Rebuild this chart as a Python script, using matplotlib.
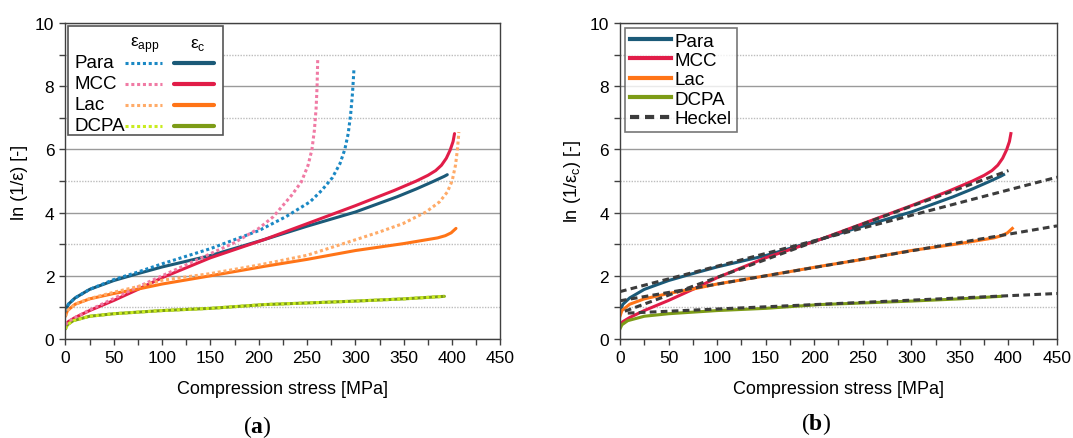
import matplotlib
matplotlib.use("Agg")
import matplotlib.pyplot as plt
from matplotlib.lines import Line2D
from matplotlib.patches import Rectangle

plt.rcParams["font.family"] = ["Liberation Sans", "DejaVu Sans"]
plt.rcParams["mathtext.fontset"] = "custom"
plt.rcParams["mathtext.rm"] = "Liberation Serif"
plt.rcParams["mathtext.bf"] = "Liberation Serif:bold"

# ---------------------------------------------------------------
# data (stress in MPa, ln(1/eps) in -)
# ---------------------------------------------------------------
materials = ["Para", "MCC", "Lac", "DCPA"]

# eps_c
para_x = [0, 3, 10, 25, 50, 75, 100, 150, 206, 250, 300, 343, 363, 380, 392, 395]
para_y = [0.88, 1.1, 1.3, 1.57, 1.85, 2.07, 2.28, 2.64, 3.15, 3.57, 4.02, 4.5, 4.75, 4.98, 5.15, 5.2]
mcc_x = [0, 3, 10, 25, 50, 75, 100, 150, 206, 250, 300, 340, 363, 375, 383, 389, 394, 398, 401, 402.5]
mcc_y = [0.45, 0.55, 0.68, 0.9, 1.22, 1.57, 1.94, 2.57, 3.15, 3.65, 4.22, 4.7, 5.0, 5.18, 5.33, 5.5, 5.72, 5.98, 6.25, 6.5]
lac_x = [0, 2, 10, 25, 50, 75, 100, 150, 206, 250, 300, 350, 385, 393, 399, 404]
lac_y = [0.72, 0.9, 1.1, 1.27, 1.44, 1.58, 1.74, 2.0, 2.3, 2.52, 2.8, 3.02, 3.2, 3.27, 3.36, 3.5]
dcpa_x = [0, 2, 8, 25, 50, 100, 150, 206, 250, 300, 350, 392]
dcpa_y = [0.32, 0.45, 0.58, 0.72, 0.8, 0.9, 0.97, 1.09, 1.14, 1.2, 1.27, 1.35]

# eps_app
para_app_x = [0, 3, 10, 25, 50, 75, 100, 150, 200, 228, 253, 265, 276, 284, 289, 292.5, 295, 297, 298.5]
para_app_y = [0.88, 1.1, 1.3, 1.57, 1.88, 2.12, 2.38, 2.86, 3.43, 3.87, 4.34, 4.7, 5.1, 5.55, 6.0, 6.5, 7.1, 7.8, 8.56]
mcc_app_x = [0, 3, 10, 25, 50, 75, 100, 150, 175, 200, 215, 234, 244, 251, 255, 257.5, 259.3, 260.3, 261]
mcc_app_y = [0.45, 0.55, 0.68, 0.92, 1.28, 1.65, 2.0, 2.7, 3.05, 3.5, 3.87, 4.55, 4.97, 5.5, 6.0, 6.6, 7.3, 8.0, 8.88]
lac_app_x = [0, 2, 10, 25, 50, 75, 100, 150, 200, 250, 304, 325, 349, 373, 387, 395, 400, 403.5, 405.5, 407]
lac_app_y = [0.72, 0.9, 1.1, 1.28, 1.48, 1.66, 1.86, 2.07, 2.34, 2.65, 3.18, 3.39, 3.65, 4.02, 4.34, 4.65, 5.0, 5.5, 6.0, 6.55]
dcpa_app_x = [0, 2, 8, 25, 50, 100, 150, 206, 250, 300, 350, 392]
dcpa_app_y = [0.32, 0.45, 0.58, 0.72, 0.8, 0.9, 0.97, 1.09, 1.14, 1.2, 1.27, 1.35]

# Heckel fits (end points)
heckel_x = [[0, 450], [5, 400], [0, 450], [8, 450]]
heckel_y = [[1.5, 5.12], [0.88, 5.33], [1.21, 3.58], [0.82, 1.44]]

col_c = ["#1b5a78", "#e11d48", "#ff7417", "#7d9c17"]
col_app = ["#1a88c4", "#f07aa4", "#ffab68", "#c9ec20"]
HECKEL_COL = "#3c3c3c"

c_x = [para_x, mcc_x, lac_x, dcpa_x]
c_y = [para_y, mcc_y, lac_y, dcpa_y]
app_x = [para_app_x, mcc_app_x, lac_app_x, dcpa_app_x]
app_y = [para_app_y, mcc_app_y, lac_app_y, dcpa_app_y]

DOT = (0, (1, 0.9))
DASH = (0, (2.2, 1.4))


def style_axes(ax, ylabel):
    ax.set_xlim(0, 450)
    ax.set_ylim(0, 10)
    ax.set_xticks(range(0, 451, 50))
    ax.set_xticks(range(25, 451, 50), minor=True)
    ax.set_yticks(range(0, 11, 2))
    ax.set_yticks(range(1, 10, 2), minor=True)
    ax.tick_params(which="both", direction="out", length=4, width=1,
                   color="#404040", labelsize=12.5, pad=4)
    ax.grid(True, which="major", axis="y", color="#9a9a9a", lw=1)
    ax.grid(True, which="minor", axis="y", color="#bdbdbd", lw=1, ls=(0, (1, 1)))
    ax.set_axisbelow(True)
    for s in ax.spines.values():
        s.set_color("#404040")
        s.set_linewidth(1)
    ax.set_xlabel("Compression stress [MPa]", fontsize=13, labelpad=11)
    ax.set_ylabel(ylabel, fontsize=13, labelpad=5)


fig = plt.figure(figsize=(10.73, 4.39), dpi=100)
ax1 = fig.add_axes([0.061, 0.2255, 0.4054, 0.7198])
ax2 = fig.add_axes([0.5778, 0.2255, 0.4073, 0.7198])

# =================================================================
# (a) eps_app vs eps_c
# =================================================================
for i in range(4):
    ax1.plot(c_x[i], c_y[i], color=col_c[i], lw=2.2, solid_capstyle="round")
for i in range(4):
    ax1.plot(app_x[i], app_y[i], color=col_app[i], lw=2.2, ls=DOT)
style_axes(ax1, "ln (1/ε) [-]")

# legend with two columns of handles, drawn by hand
tr = ax1.transAxes
ax1.add_patch(Rectangle((0.007, 0.647), 0.355, 0.344, transform=tr,
                        fill=True, facecolor="white", edgecolor="#555555",
                        lw=1.2, zorder=5))
ax1.text(0.183, 0.934, "ε$_\\mathregular{app}$", transform=tr, ha="center",
         va="center", fontsize=12.5, zorder=6)
ax1.text(0.305, 0.934, "ε$_\\mathregular{c}$", transform=tr, ha="center",
         va="center", fontsize=12.5, zorder=6)
rows = [0.874, 0.808, 0.741, 0.675]
for i, name in enumerate(materials):
    ax1.text(0.02, rows[i], name, transform=tr, ha="left", va="center",
             fontsize=13.5, zorder=6)
    ax1.add_line(Line2D([0.137, 0.222], [rows[i], rows[i]], transform=tr,
                        color=col_app[i], lw=2.2, ls=DOT, zorder=6))
    ax1.add_line(Line2D([0.25, 0.342], [rows[i], rows[i]], transform=tr,
                        color=col_c[i], lw=3, solid_capstyle="round", zorder=6))

# =================================================================
# (b) eps_c with Heckel fits
# =================================================================
for i in range(4):
    ax2.plot(c_x[i], c_y[i], color=col_c[i], lw=2.2, label=materials[i])
for i in range(4):
    ax2.plot(heckel_x[i], heckel_y[i], color=HECKEL_COL, lw=2.2,
             ls=DASH, label="Heckel" if i == 0 else None)
style_axes(ax2, "ln (1/ε$_\\mathregular{c}$) [-]")
leg = ax2.legend(loc="upper left", bbox_to_anchor=(0.012, 0.985), fontsize=13.5,
                 frameon=True, fancybox=False, edgecolor="#555555",
                 handlelength=2.2, handletextpad=0.2, borderpad=0.25,
                 labelspacing=0.12, borderaxespad=0)
leg.get_frame().set_linewidth(1.2)
for h in leg.get_lines():
    h.set_linewidth(3)

fig.text(0.2395, 0.027, r"$\mathrm{(}\mathbf{a}\mathrm{)}$", ha="center",
         va="center", fontsize=17)
fig.text(0.76, 0.033, r"$\mathrm{(}\mathbf{b}\mathrm{)}$", ha="center",
         va="center", fontsize=17)

fig.savefig("out.png", dpi=100)
